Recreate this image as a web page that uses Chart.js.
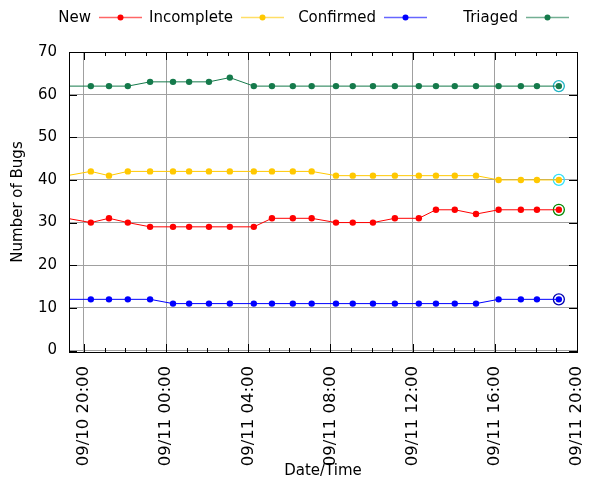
<!DOCTYPE html>
<html>
<head>
<meta charset="utf-8">
<script src="https://cdn.jsdelivr.net/npm/chart.js@4.4.0/dist/chart.umd.min.js"></script>
<style>
  html, body { margin: 0; padding: 0; background: #fff; }
</style>
</head>
<body>
<canvas id="bugChart" width="600" height="480"></canvas>
<script>
// sample times (first one sits just left of the visible range)
const times = [
  "09/10 19:10", "09/10 20:20", "09/10 21:13", "09/10 22:08", "09/10 23:13",
  "09/11 00:20", "09/11 01:07", "09/11 02:05", "09/11 03:06", "09/11 04:16",
  "09/11 05:09", "09/11 06:10", "09/11 07:05", "09/11 08:16", "09/11 09:05",
  "09/11 10:04", "09/11 11:08", "09/11 12:18", "09/11 13:08", "09/11 14:03",
  "09/11 15:05", "09/11 16:11", "09/11 17:16", "09/11 18:03", "09/11 19:07"
];
const newBugs    = [31, 30, 31, 30, 29, 29, 29, 29, 29, 29, 31, 31, 31, 30, 30, 30, 31, 31, 33, 33, 32, 33, 33, 33, 33];
const incomplete = [41, 42, 41, 42, 42, 42, 42, 42, 42, 42, 42, 42, 42, 41, 41, 41, 41, 41, 41, 41, 41, 40, 40, 40, 40];
const confirmed  = [12, 12, 12, 12, 12, 11, 11, 11, 11, 11, 11, 11, 11, 11, 11, 11, 11, 11, 11, 11, 11, 12, 12, 12, 12];
const triaged    = [62, 62, 62, 62, 63, 63, 63, 63, 64, 62, 62, 62, 62, 62, 62, 62, 62, 62, 62, 62, 62, 62, 62, 62, 62];

const seriesNames  = ["New", "Incomplete", "Confirmed", "Triaged"];
const seriesColors = ["#ff0000", "#ffc800", "#0000ff", "#157a4b"];
const ringColors   = ["#008800", "#30e0f8", "#0000b0", "#20b4c4"];

// x axis: hours after 09/10 20:00
const xMin = -0.73, xMax = 24;
const yMin = -0.35, yMax = 70;

const FONT = '"DejaVu Sans", sans-serif';

function toHours(s) {
  const [date, time] = s.split(" ");
  const day = parseInt(date.split("/")[1], 10);
  const [hh, mm] = time.split(":").map(Number);
  return (day - 10) * 24 + hh - 20 + mm / 60;
}

function fmtTick(h) {
  const total = h + 20;
  const day = 10 + Math.floor(total / 24);
  const hour = total % 24;
  return "09/" + String(day).padStart(2, "0") + " " + String(hour).padStart(2, "0") + ":00";
}

const xs = times.map(toHours);
const allSeries = [newBugs, incomplete, confirmed, triaged];

const datasets = [];
allSeries.forEach((vals, i) => {
  datasets.push({
    label: seriesNames[i],
    data: vals.map((v, k) => ({ x: xs[k], y: v })),
    borderColor: seriesColors[i],
    backgroundColor: seriesColors[i],
    borderWidth: 1,
    pointRadius: 3.2,
    pointBorderWidth: 0,
    tension: 0,
    clip: 0
  });
});
// rings round the latest value of each series
allSeries.forEach((vals, i) => {
  const last = vals.length - 1;
  datasets.push({
    label: "",
    data: [{ x: xs[last], y: vals[last] }],
    showLine: false,
    pointRadius: 5.5,
    pointBorderWidth: 1.3,
    pointBorderColor: ringColors[i],
    pointBackgroundColor: "rgba(0,0,0,0)"
  });
});

// frame + inward tick marks like gnuplot
const framePlugin = {
  id: "frame",
  afterDraw(chart) {
    const { ctx, chartArea: a, scales } = chart;
    ctx.save();
    ctx.strokeStyle = "#000";
    ctx.lineWidth = 1;
    ctx.beginPath();
    for (let h = 0; h <= 24; h++) {
      const px = Math.round(scales.x.getPixelForValue(h)) + 0.5;
      const len = h % 4 === 0 ? 8 : 4;
      ctx.moveTo(px, a.bottom); ctx.lineTo(px, a.bottom - len);
      ctx.moveTo(px, a.top); ctx.lineTo(px, a.top + len);
    }
    for (let v = 0; v <= 70; v += 10) {
      const py = Math.round(scales.y.getPixelForValue(v)) + 0.5;
      ctx.moveTo(a.left, py); ctx.lineTo(a.left + 8, py);
      ctx.moveTo(a.right, py); ctx.lineTo(a.right - 8, py);
    }
    ctx.stroke();
    ctx.strokeRect(Math.round(a.left) + 0.5, Math.round(a.top) + 0.5,
      Math.round(a.right - a.left), Math.round(a.bottom - a.top));
    ctx.restore();
  }
};

// legend: text first, then line sample with a point
const legendPlugin = {
  id: "keyLegend",
  afterDraw(chart) {
    const { ctx } = chart;
    const textRight = [91, 233, 376, 518];
    const y = 17;
    ctx.save();
    ctx.font = "15px " + FONT;
    ctx.textAlign = "right";
    ctx.textBaseline = "middle";
    seriesNames.forEach((name, i) => {
      ctx.fillStyle = "#000";
      ctx.fillText(name, textRight[i], y + 1);
      const x0 = textRight[i] + 8, x1 = x0 + 43;
      ctx.globalAlpha = 0.6;
      ctx.strokeStyle = seriesColors[i];
      ctx.lineWidth = 1.5;
      ctx.beginPath();
      ctx.moveTo(x0, y + 0.5); ctx.lineTo(x1, y + 0.5);
      ctx.stroke();
      ctx.globalAlpha = 1;
      ctx.fillStyle = seriesColors[i];
      ctx.beginPath();
      ctx.arc((x0 + x1) / 2, y + 0.5, 3, 0, Math.PI * 2);
      ctx.fill();
    });
    ctx.restore();
  }
};

new Chart(document.getElementById("bugChart"), {
  type: "line",
  data: { datasets },
  plugins: [framePlugin, legendPlugin],
  options: {
    responsive: false,
    animation: false,
    layout: { padding: { top: 52, right: 23, left: 0, bottom: 0 } },
    plugins: { legend: { display: false }, tooltip: { enabled: false } },
    scales: {
      x: {
        type: "linear",
        min: xMin,
        max: xMax,
        afterFit: (s) => { s.height = 128; s.paddingLeft = 0; s.paddingRight = 0; },
        border: { display: false },
        grid: {
          drawTicks: false,
          color: (c) => (c.tick && c.tick.value % 4 === 0) ? "#a0a0a0" : "rgba(0,0,0,0)",
          lineWidth: 1
        },
        ticks: {
          stepSize: 1,
          includeBounds: false,
          autoSkip: false,
          minRotation: 90,
          maxRotation: 90,
          padding: 14,
          color: "#000",
          font: { family: FONT, size: 16.5 },
          callback: (v) => v % 4 === 0 ? fmtTick(v) : ""
        },
        title: {
          display: true,
          text: "Date/Time",
          color: "#000",
          font: { family: FONT, size: 15 },
          padding: { top: 4, bottom: 0 }
        }
      },
      y: {
        min: yMin,
        max: yMax,
        afterFit: (s) => { s.width = 69; },
        border: { display: false },
        grid: { drawTicks: false, color: "#a0a0a0", lineWidth: 1 },
        ticks: {
          stepSize: 10,
          includeBounds: false,
          padding: 12,
          color: "#000",
          font: { family: FONT, size: 15 }
        },
        title: {
          display: true,
          text: "Number of Bugs",
          color: "#000",
          font: { family: FONT, size: 15 },
          padding: { top: 9, bottom: 4 }
        }
      }
    }
  }
});
</script>
</body>
</html>
